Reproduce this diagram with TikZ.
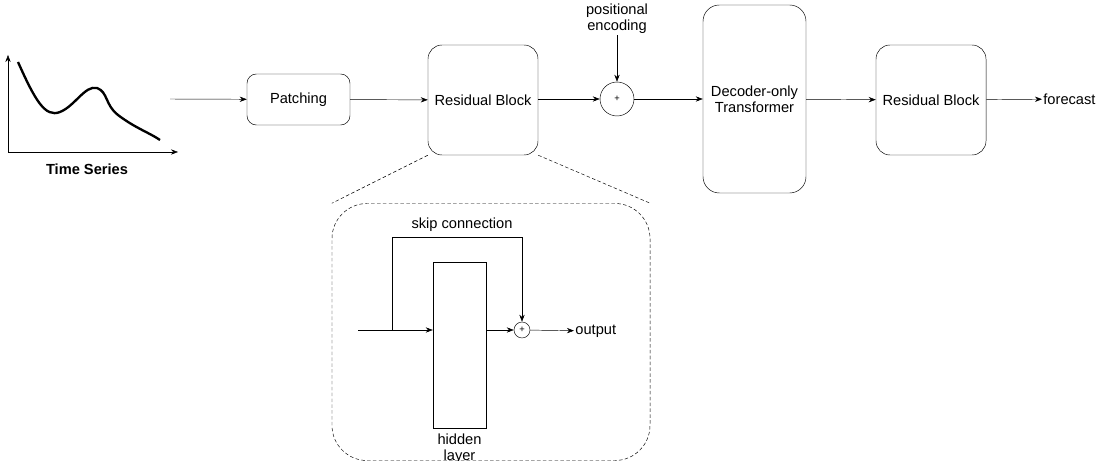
\documentclass[tikz,border=0pt]{standalone}
\usepackage{fontspec}
\setmainfont{Liberation Sans}
\usetikzlibrary{arrows.meta}
\begin{document}
\begin{tikzpicture}[x=0.03cm,y=-0.03cm,
  font=\fontsize{12.5}{14}\selectfont,
  >={Stealth[length=6pt,width=4.5pt]},
  box/.style={draw,rounded corners=8pt,align=center,thin,inner sep=0pt},
  sum/.style={draw,circle,inner sep=0pt,font=\fontsize{8}{9}\selectfont},
  conn/.style={->,thin}]
\useasboundingbox (0,0) rectangle (1100,461);
% time series
\coordinate (o) at (8,152);
\coordinate (yt) at (8,55);
\coordinate (xt) at (178,152);
\draw[conn] (o) -- (yt);
\draw[conn] (o) -- (xt);
\draw[line width=2pt] (18,62) .. controls (35,100) and (45,118) .. (60,112)
  .. controls (75,106) and (85,85) .. (97,88) .. controls (108,92) and (105,105) .. (118,115)
  .. controls (135,128) and (150,133) .. (160,140);
\node[font=\fontsize{12.5}{14}\selectfont\bfseries] (ts) at (87,169) {Time Series};
% main row
\coordinate (in) at (170,99);
\node[box,minimum width=3.09cm,minimum height=1.53cm] (patch) at (298.5,99.5) {Patching};
\node[box,minimum width=3.3cm,minimum height=3.3cm,rounded corners=12pt] (rb1) at (483,100) {Residual Block};
\node[sum,minimum size=1.02cm] (plus) at (617,99) {+};
\node[align=center,inner sep=1pt] (pe) at (617,19) {positional\\encoding};
\node[box,minimum width=3.09cm,minimum height=5.64cm,rounded corners=14pt] (dec) at (754.5,99) {Decoder-only\\Transformer};
\node[box,minimum width=3.3cm,minimum height=3.3cm,rounded corners=12pt] (rb2) at (931,100) {Residual Block};
\node[anchor=west,inner sep=1pt] (fc) at (1042,99) {forecast};
\draw[conn] (in) -- (patch);
\draw[conn] (patch) -- (rb1);
\draw[conn] (rb1.east|-plus) -- (plus);
\draw[conn] (pe) -- (plus);
\draw[conn] (plus) -- (dec.west|-plus);
\draw[conn] (dec) -- (rb2);
\draw[conn] (rb2) -- (fc);
% zoom box
\node[draw,densely dashed,rounded corners=30pt,minimum width=9.54cm,minimum height=7.71cm] (zoom) at (491,332) {};
\draw[densely dashed] (rb1.south west) -- (zoom.north west);
\draw[densely dashed] (rb1.south east) -- (zoom.north east);
\node[draw,minimum width=1.59cm,minimum height=4.98cm,inner sep=0pt] (hid) at (459.5,345) {};
\node[align=center] (hl) at (459.5,449) {hidden\\layer};
\coordinate (i2) at (358,330);
\coordinate (br) at (392,330);
\node[sum,minimum size=0.48cm] (s2) at (522,330) {+};
\node[anchor=west,inner sep=1pt] (out) at (574,331) {output};
\draw[conn] (i2) -- (hid.west|-i2);
\draw[conn] (hid.east|-s2) -- (s2);
\draw[conn] (s2) -- (out);
\draw[conn] (br) |- (522,237) -- (s2);
\node (skip) at (462,225) {skip connection};
\end{tikzpicture}
\end{document}
